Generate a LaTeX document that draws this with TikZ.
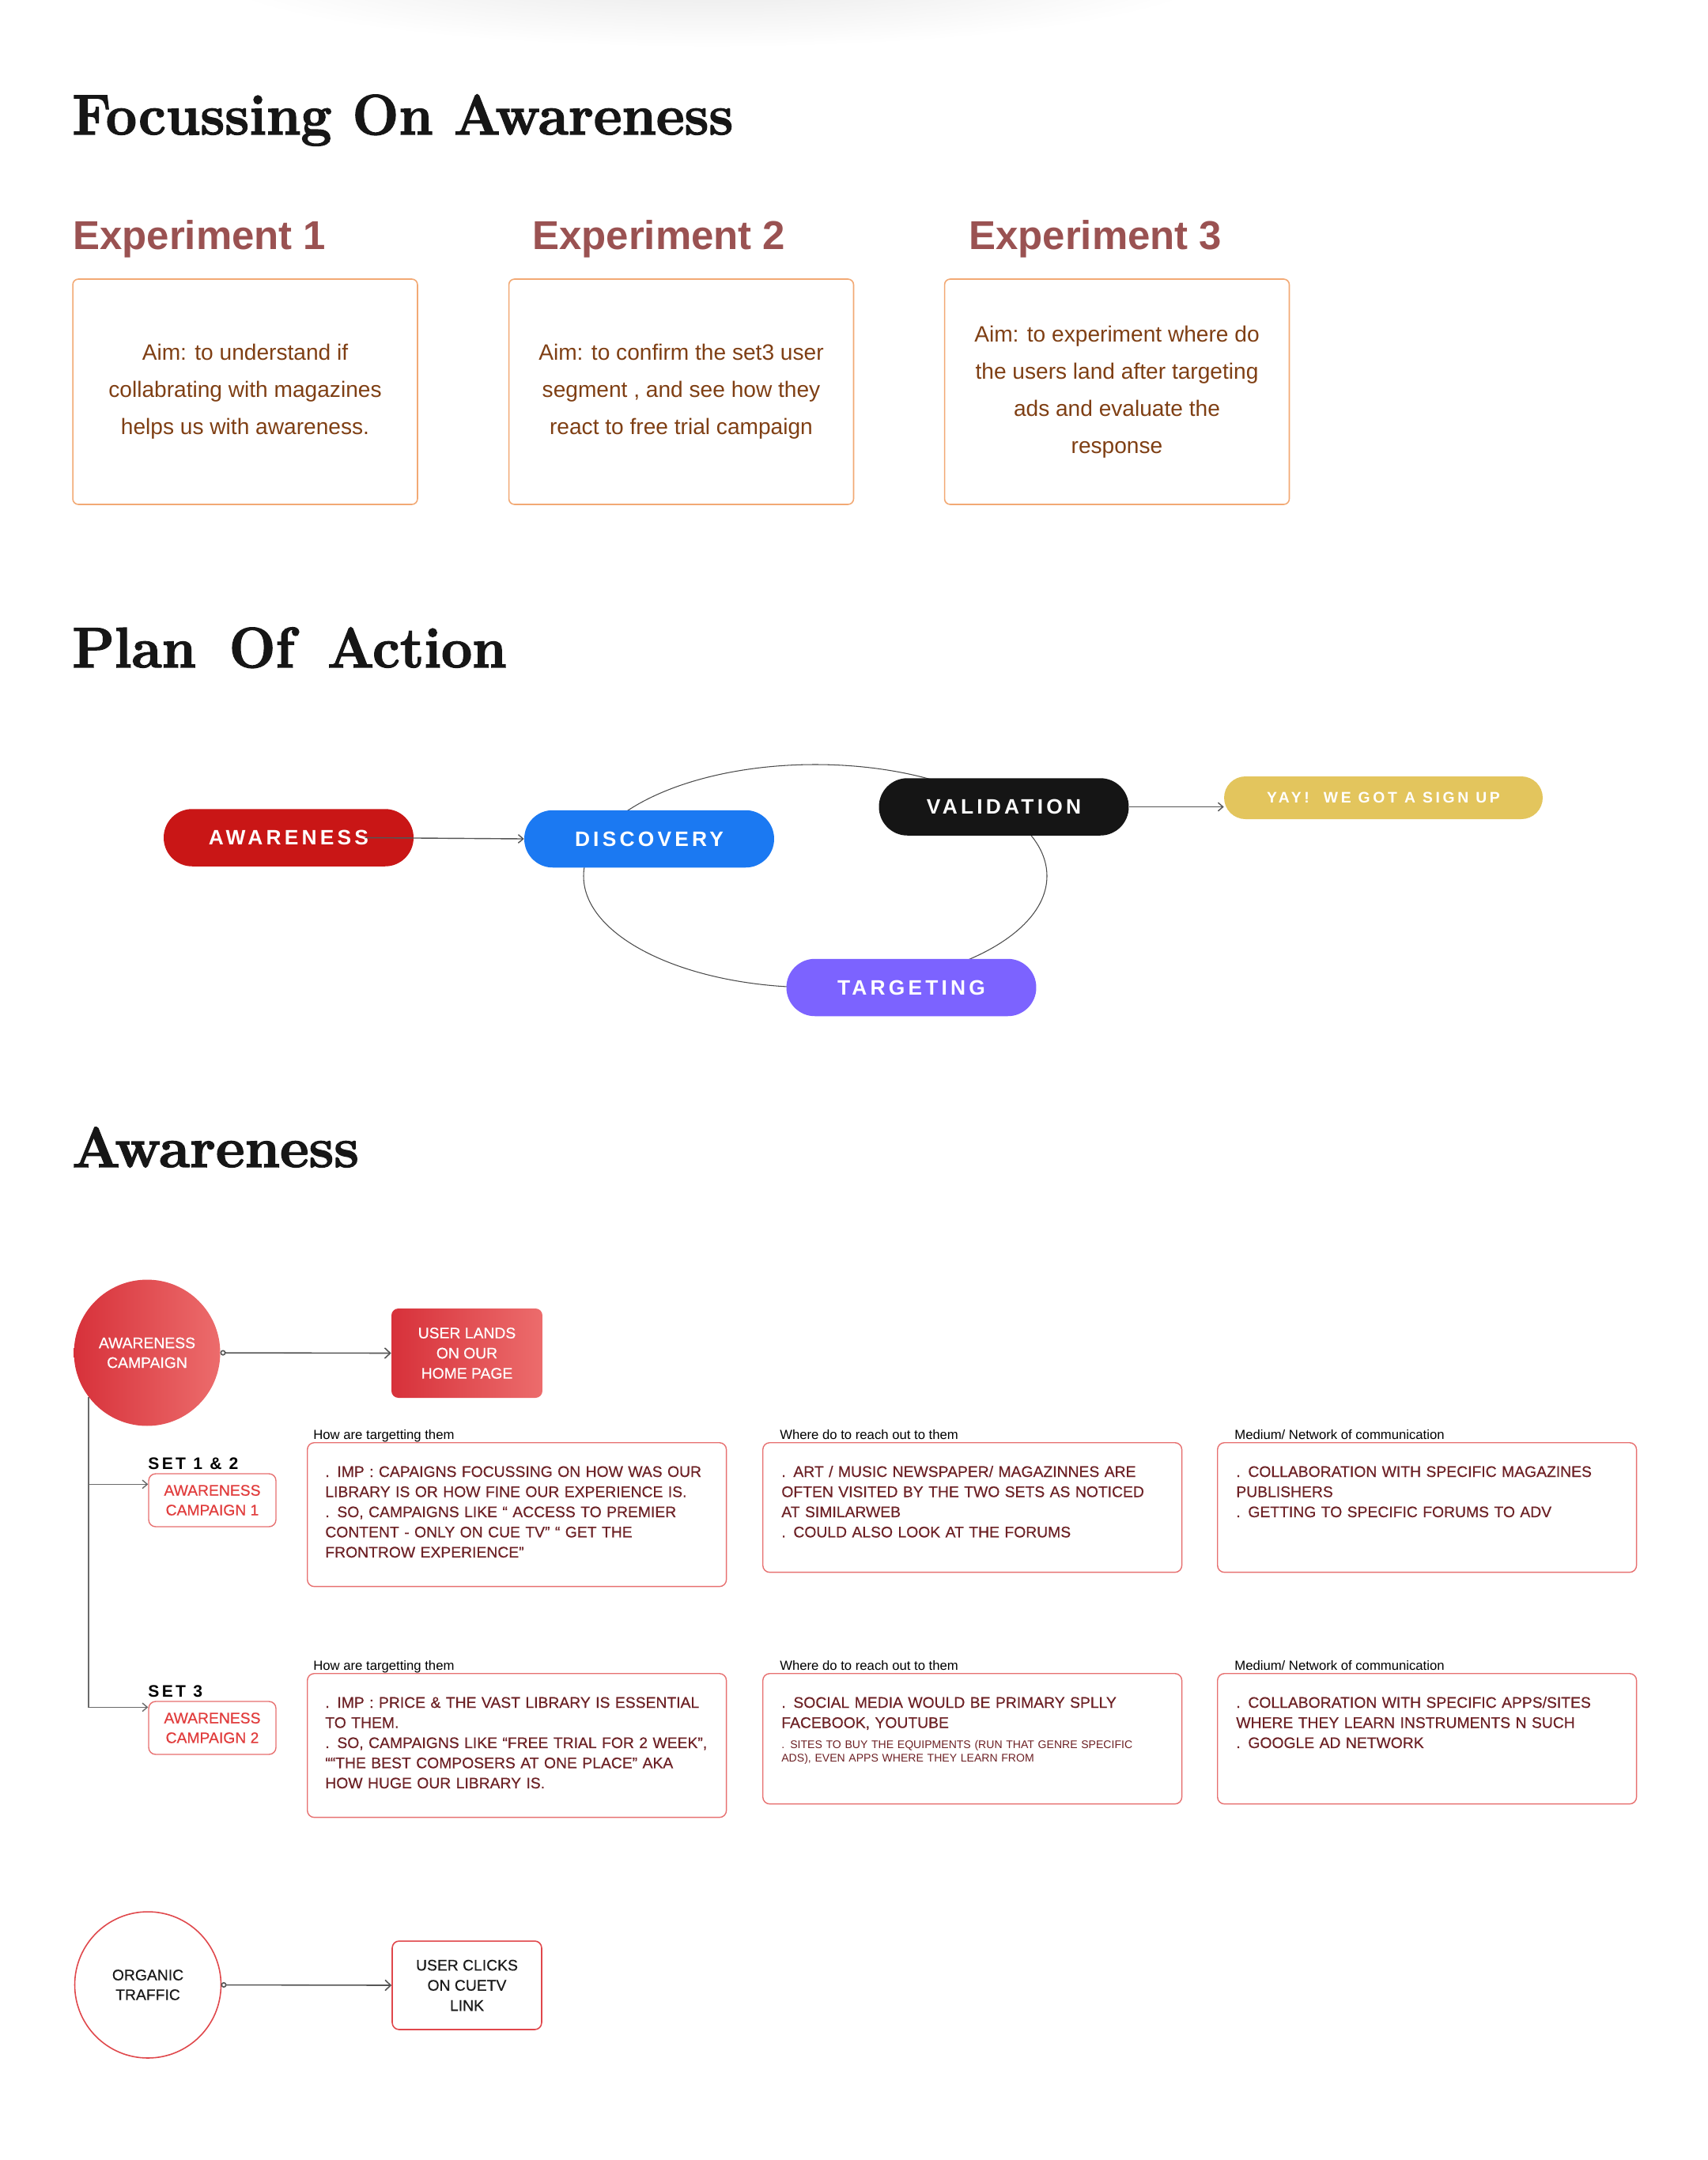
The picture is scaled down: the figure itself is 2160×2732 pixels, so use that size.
\documentclass[tikz,border=0pt]{standalone}
\usepackage{fontspec}
\usepackage{graphicx}
\usetikzlibrary{arrows.meta,calc,positioning}
\newfontfamily\uisans{Liberation Sans}
\newfontfamily\midsans{Liberation Sans}[FakeBold=0.5]
\newfontfamily\pillsans{Liberation Sans}[LetterSpace=16]
\newfontfamily\yaysans{Liberation Sans}[LetterSpace=19]
\newfontfamily\headserif{Latin Modern Roman}[FakeBold=2]
\definecolor{cTitle}{HTML}{161616}
\definecolor{cRose}{HTML}{9A5252}
\definecolor{cPeach}{HTML}{F2A974}
\definecolor{cBrown}{HTML}{7F3F14}
\definecolor{cAware}{HTML}{C91616}
\definecolor{cDisc}{HTML}{1B79F2}
\definecolor{cVal}{HTML}{151515}
\definecolor{cGold}{HTML}{E3C55D}
\definecolor{cTgt}{HTML}{7C63FF}
\definecolor{cLoop}{HTML}{4A4A4A}
\definecolor{cLink}{HTML}{555555}
\definecolor{cGradA}{HTML}{D7313A}
\definecolor{cGradB}{HTML}{EC6C6C}
\definecolor{cLine}{HTML}{E77070}
\definecolor{cCampTxt}{HTML}{E13D3D}
\definecolor{cMaroon}{HTML}{6D2125}
\definecolor{cRing}{HTML}{E0474B}
\definecolor{cInk}{HTML}{1A1A1A}
\definecolor{cTrunk}{HTML}{6A6A6A}
\tikzset{
  ttl/.style   ={anchor=base west,inner sep=0,text=cTitle,
                 font=\headserif\bfseries\fontsize{41}{41}\selectfont},
  hdr/.style   ={anchor=base west,inner sep=0,text=cRose,
                 font=\uisans\bfseries\fontsize{29}{29}\selectfont},
  expbox/.style={draw=cPeach,line width=0.9pt,rounded corners=4pt,
                 minimum width=8.72cm,minimum height=5.7cm,inner sep=0,
                 align=center,text=cBrown,
                 font=\uisans\fontsize{16}{26.7}\selectfont},
  pill/.style  ={rounded corners=0.72cm,minimum width=6.32cm,minimum height=1.45cm,
                 inner sep=0,text=white,
                 font=\pillsans\bfseries\fontsize{15}{18}\selectfont},
  loopline/.style={draw=cLoop,line width=0.6pt},
  ar/.style    ={-{Straight Barb[length=3.5pt,width=6pt]},draw=cLink,line width=0.8pt},
  arl/.style   ={{Circle[open,length=4pt,width=4pt]}-{Straight Barb[length=4pt,width=7.5pt]},
                 draw=cLink,line width=0.9pt},
  camp/.style  ={circle,minimum size=3.7cm,inner sep=0,outer sep=0,align=center,
                 font=\midsans\fontsize{11}{14.2}\selectfont},
  hbox/.style  ={rounded corners=5pt,minimum width=3.82cm,minimum height=2.26cm,
                 inner sep=0,align=center,font=\midsans\fontsize{11}{14.5}\selectfont},
  cbox/.style  ={draw=cLine,fill=white,line width=0.8pt,rounded corners=5pt,
                 minimum width=3.22cm,minimum height=1.34cm,inner sep=0,align=center,
                 text=cCampTxt,font=\midsans\fontsize{11}{14.2}\selectfont},
  setlbl/.style={anchor=base west,inner sep=0,text=black,
                 font=\pillsans\bfseries\fontsize{12}{14}\selectfont},
  ctx/.style   ={draw=cLine,line width=0.8pt,rounded corners=5pt,anchor=north west,
                 minimum height=3.64cm,minimum width=10.6cm,inner sep=0},
  ctxt/.style  ={anchor=base west,inner sep=0,text width=10cm,align=left,text=cMaroon,
                 font=\midsans\fontsize{11}{14.5}\selectfont},
  lbl/.style   ={anchor=base west,inner sep=0,text=black,
                 font=\uisans\fontsize{9.5}{11}\selectfont},
}
\begin{document}
\begin{tikzpicture}[x=0.02cm,y=-0.02cm]
\useasboundingbox (0,0) rectangle (2160,2732);
\fill[white] (0,0) rectangle (2160,2732);
\shade[inner color=black!10,outer color=white] (900,-40) ellipse [x radius=650, y radius=100];

% focussing on awareness
\node[ttl] (t1) at (91,170) {\scalebox{0.965}[1]{Focussing On Awareness}};
\node[hdr] (x1) at (92,315) {Experiment 1};
\node[hdr] (x2) at (673,315) {Experiment 2};
\node[hdr] (x3) at (1225,315) {Experiment 3};
\node[expbox] (e1) at (310,495.5) {Aim: to understand if\\collabrating with magazines\\helps us with awareness.};
\node[expbox] (e2) at (861.5,495.5) {Aim: to confirm the set3 user\\segment , and see how they\\react to free trial campaign};
\node[expbox] (e3) at (1412.5,495.5) {Aim: to experiment where do\\the users land after targeting\\ads and evaluate the\\response};

% plan of action
\node[ttl] (t2) at (91,844) {\scalebox{0.965}[1]{Plan\hspace{0.6em}Of\hspace{0.6em}Action}};
\coordinate (loop) at (1031,1108);
\draw[loopline] (loop) ellipse [x radius=293, y radius=141];
\node[pill,fill=cAware] (aw) at (365,1059.5) {AWARENESS};
\node[pill,fill=cDisc] (disc) at (821,1061) {DISCOVERY};
\node[pill,fill=cVal] (val) at (1269.5,1020.5) {VALIDATION};
\node[pill,fill=cTgt] (tgt) at (1152.5,1249) {TARGETING};
\node[pill,fill=cGold,minimum width=8.06cm,minimum height=1.08cm,rounded corners=0.54cm,
      font=\yaysans\bfseries\fontsize{11}{13}\selectfont] (yay) at (1749.5,1009) {YAY!\ \ WE GOT A SIGN UP};
\draw[ar] ([xshift=-1.24cm]aw.east) -- (disc.west);
\draw[ar] (val.east) -- (val.east -| yay.west);

% awareness
\node[ttl] (t3) at (91,1476) {\scalebox{0.99}[1]{Awareness}};
\node[camp,left color=cGradA,right color=cGradB,text=white] (acamp) at (186,1711) {AWARENESS\\CAMPAIGN};
\node[hbox,left color=cGradA,right color=cGradB,text=white] (land) at (590.5,1711.5) {USER LANDS\\ON OUR\\HOME PAGE};
\draw[arl] (acamp.east) -- (land.west);

\node[cbox] (cc1) at (268.5,1897.5) {AWARENESS\\CAMPAIGN 1};
\node[setlbl] (s12) at (187,1858) {SET 1 \& 2};
\node[cbox] (cc2) at (268.5,2185.5) {AWARENESS\\CAMPAIGN 2};
\node[setlbl] (s3) at (187,2146) {SET 3};
\coordinate (in1) at ($(cc1.north west)+(0,14)$);
\coordinate (in2) at ($(cc2.north west)+(0,8)$);
\draw[ar,draw=cTrunk] (acamp.217) |- (in1);
\draw[ar,draw=cTrunk] (acamp.217) |- (in2);

% row 1
\node[ctx] (h1) at (388,1824) {};
\node[ctx,minimum height=3.28cm] (w1) at (964,1824) {};
\node[ctx,minimum height=3.28cm] (m1) at (1539,1824) {};
\node[lbl] (h1l) at ($(h1.north west)+(8,-4)$) {How are targetting them};
\node[lbl] (w1l) at ($(w1.north west)+(22,-4)$) {Where do to reach out to them};
\node[lbl] (m1l) at ($(m1.north west)+(22,-4)$) {Medium/ Network of communication};
\node[ctxt] (h1t) at ($(h1.north west)+(23,44)$) {. IMP : CAPAIGNS FOCUSSING ON HOW WAS OUR\\LIBRARY IS OR HOW FINE OUR EXPERIENCE IS.\\. SO, CAMPAIGNS LIKE “ ACCESS TO PREMIER\\CONTENT - ONLY ON CUE TV” “ GET THE\\FRONTROW EXPERIENCE”};
\node[ctxt] (w1t) at ($(w1.north west)+(24,44)$) {. ART / MUSIC NEWSPAPER/ MAGAZINNES ARE\\OFTEN VISITED BY THE TWO SETS AS NOTICED\\AT SIMILARWEB\\. COULD ALSO LOOK AT THE FORUMS};
\node[ctxt] (m1t) at ($(m1.north west)+(24,44)$) {. COLLABORATION WITH SPECIFIC MAGAZINES\\PUBLISHERS\\. GETTING TO SPECIFIC FORUMS TO ADV};

% row 2
\node[ctx] (h2) at (388,2116) {};
\node[ctx,minimum height=3.3cm] (w2) at (964,2116) {};
\node[ctx,minimum height=3.3cm] (m2) at (1539,2116) {};
\node[lbl] (h2l) at ($(h2.north west)+(8,-4)$) {How are targetting them};
\node[lbl] (w2l) at ($(w2.north west)+(22,-4)$) {Where do to reach out to them};
\node[lbl] (m2l) at ($(m2.north west)+(22,-4)$) {Medium/ Network of communication};
\node[ctxt] (h2t) at ($(h2.north west)+(23,44)$) {. IMP : PRICE \& THE VAST LIBRARY IS ESSENTIAL\\TO THEM.\\. SO, CAMPAIGNS LIKE “FREE TRIAL FOR 2 WEEK”,\\““THE BEST COMPOSERS AT ONE PLACE” AKA\\HOW HUGE OUR LIBRARY IS.};
\node[ctxt] (w2t) at ($(w2.north west)+(24,44)$) {. SOCIAL MEDIA WOULD BE PRIMARY SPLLY\\FACEBOOK, YOUTUBE};
\node[ctxt,font=\uisans\fontsize{8}{10.2}\selectfont] (w2s) at ($(w2.north west)+(24,95)$) {. SITES TO BUY THE EQUIPMENTS (RUN THAT GENRE SPECIFIC\\ADS), EVEN APPS WHERE THEY LEARN FROM};
\node[ctxt] (m2t) at ($(m2.north west)+(24,44)$) {. COLLABORATION WITH SPECIFIC APPS/SITES\\WHERE THEY LEARN INSTRUMENTS N SUCH\\. GOOGLE AD NETWORK};

% organic
\node[camp,draw=cRing,line width=0.9pt,text=cInk] (org) at (187,2510.5) {ORGANIC\\TRAFFIC};
\node[hbox,draw=cRing,line width=0.9pt,fill=white,minimum width=3.78cm,minimum height=2.24cm,
      text=cInk] (click) at (590.5,2511) {USER CLICKS\\ON CUETV\\LINK};
\draw[arl] (org.east) -- (click.west);
\end{tikzpicture}
\end{document}
